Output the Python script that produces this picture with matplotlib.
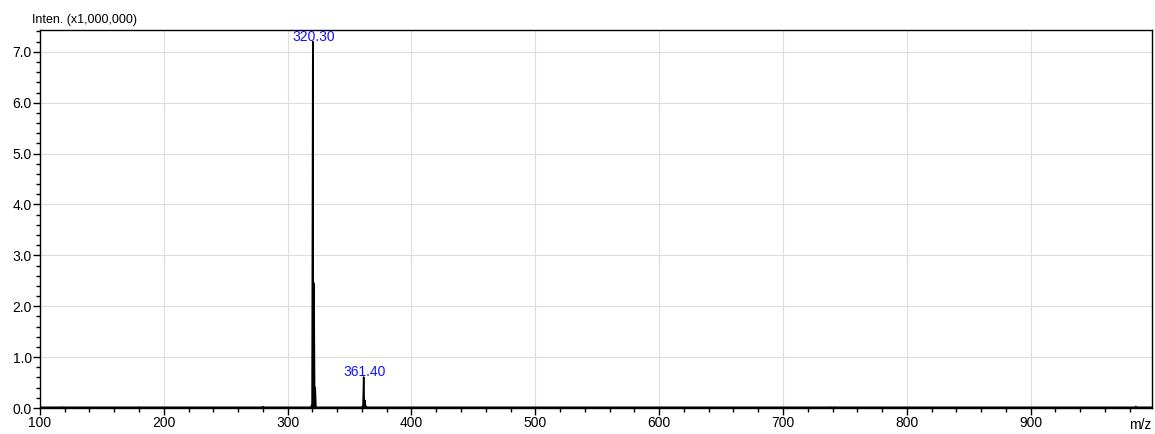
import numpy as np
import matplotlib.pyplot as plt
from matplotlib.ticker import MultipleLocator

plt.rcParams["font.family"] = ["Liberation Sans", "DejaVu Sans"]

# peak list (m/z, intensity in 1e6 counts)
peak_mz = [118.0, 180.0, 280.0, 319.3, 320.3, 321.3, 322.3, 360.4, 361.4, 362.4, 363.4,
           560.0, 738.0, 742.0, 985.0]
peak_int = [0.02, 0.02, 0.03, 0.05, 7.20, 2.45, 0.40, 0.03, 0.61, 0.15, 0.03,
            0.01, 0.02, 0.02, 0.03]
labels_mz = [320.30, 361.40]
labels_int = [7.20, 0.61]
baseline = 0.015

# build profile trace from the peak list
x = [100.0]
y = [baseline]
for mz, h in sorted(zip(peak_mz, peak_int)):
    x += [mz - 0.6, mz, mz + 0.6]
    y += [baseline, h, baseline]
x.append(1000.0)
y.append(baseline)

fig = plt.figure(figsize=(11.55, 4.34), dpi=100)
ax = fig.add_axes([0.0346, 0.0599, 0.9628, 0.8711])

ax.plot(x, y, color="black", lw=1.1)
for mz, h in zip(labels_mz, labels_int):
    ax.text(mz + 0.5, h - 0.04, f"{mz:.2f}", color="#1010ff", ha="center", va="bottom", fontsize=10)

ax.set_xlim(100, 998)
ax.set_ylim(0, 7.43)
ax.xaxis.set_minor_locator(MultipleLocator(20))
ax.yaxis.set_minor_locator(MultipleLocator(0.2))
ax.set_yticks(np.arange(0, 8, 1.0))
ax.set_yticklabels([f"{v:.1f}" for v in np.arange(0, 8, 1.0)])
ax.set_xticks(np.arange(100, 1000, 100))
ax.set_xticklabels([str(v) for v in range(100, 1000, 100)])
ax.tick_params(axis="both", which="major", direction="out", length=5, width=1, labelsize=10, pad=1)
ax.tick_params(axis="both", which="minor", direction="out", length=3, width=1)
ax.grid(True, which="major", color="#dddddd", lw=0.8)
ax.set_axisbelow(True)
for s in ax.spines.values():
    s.set_linewidth(1.0)

fig.text(0.028, 0.94, "Inten. (x1,000,000)", fontsize=9, ha="left", va="bottom")
fig.text(0.9875, 0.005, "m/z", fontsize=10, ha="center", va="bottom")

fig.savefig("out.png", dpi=100)
